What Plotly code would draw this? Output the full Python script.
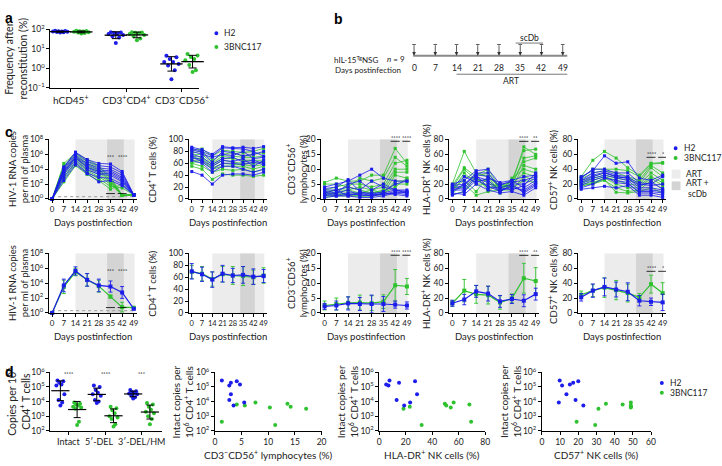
import numpy as np
import plotly.graph_objects as go

W, H = 722, 466
FONT = "Lato"
BOLD_FONT = "Liberation Sans"
BLUE = "#1c1ceb"
GREEN = "#2ec22e"
LIGHT = "#ececec"
DARK = "#d4d4d4"
INK = "#222222"


def fx(p):
    return p / W


def fy(p):
    return 1 - p / H


# ------------------------------------------------------------------ data
GROUPS = ["H2", "3BNC117"]
DAYS = [0, 7, 14, 21, 28, 35, 42, 49]

# panel a: frequency after reconstitution (%)
A_CATS = ["hCD45<sup>+</sup>", "CD3<sup>+</sup>CD4<sup>+</sup>", "CD3<sup>−</sup>CD56<sup>+</sup>"]
a_h2 = [
    [85, 83, 81, 79, 77, 75, 73, 71, 69],
    [72, 70, 66, 62, 58, 52, 45, 38, 20],
    [4.5, 3.7, 3.0, 2.1, 2.1, 1.7, 1.4, 0.8, 0.28],
]
a_3bnc = [
    [86, 84, 80, 78, 75, 72, 70, 66, 62],
    [72, 70, 68, 63, 58, 52, 45, 34, 28],
    [5.5, 4.6, 3.8, 3.0, 2.6, 2.2, 1.5, 0.8, 0.65],
]

# panel c, top row: individual mice (rows = mice, columns = DAYS)
rna_h2 = [
    [1, 2.0e4, 2.0e6, 2.0e5, 6.0e4, 5.0e4, 5.0e3, 3.5],
    [1, 1.5e4, 1.5e6, 1.2e5, 3.0e4, 2.0e4, 3.0e3, 3.5],
    [1, 1.0e4, 8.0e5, 6.0e4, 1.5e4, 1.0e4, 1.5e3, 3.5],
    [1, 6.0e3, 5.0e5, 4.0e4, 8.0e3, 6.0e3, 8.0e2, 3.5],
    [1, 4.0e3, 4.0e5, 2.0e4, 5.0e3, 4.0e3, 5.0e2, 3.5],
    [1, 3.0e3, 3.0e5, 1.5e4, 3.0e3, 2.5e3, 3.0e2, 3.5],
    [1, 2.0e3, 1.5e5, 8.0e3, 2.0e3, 1.5e3, 2.0e2, 3.5],
    [1, 8.0e2, 8.0e4, 3.0e3, 8.0e2, 6.0e2, 1.0e2, 3.5],
    [1, 3.0e2, 4.0e4, 2.5e3, 2.0e2, 3.0e2, 6.0e1, 3.5],
]
rna_3bnc = [
    [1, 6.0e4, 1.5e6, 2.0e5, 3.0e4, 1.0e3, 3, 3.5],
    [1, 3.0e4, 1.0e6, 1.0e5, 2.0e4, 6.0e2, 3, 3.5],
    [1, 1.5e4, 6.0e5, 6.0e4, 1.0e4, 4.0e2, 3, 3.5],
    [1, 8.0e3, 4.0e5, 3.0e4, 6.0e3, 3.0e2, 3, 3.5],
    [1, 4.0e3, 3.0e5, 2.0e4, 4.0e3, 2.0e2, 3, 3.5],
    [1, 2.0e3, 2.0e5, 1.0e4, 2.0e3, 1.5e2, 3, 3.5],
    [1, 1.0e3, 1.0e5, 6.0e3, 1.0e3, 1.0e2, 3, 3.5],
    [1, 5.0e2, 6.0e4, 4.0e3, 5.0e2, 5.0e1, 30, 3.5],
    [1, 2.0e2, 3.0e4, 2.0e3, 3.0e2, 2.0e1, 100, 3.5],
]
cd4_h2 = [
    [87, 83, 75, 88, 86, 87, 85, 88],
    [85, 80, 72, 86, 85, 84, 80, 72],
    [83, 78, 62, 80, 78, 72, 75, 80],
    [80, 75, 70, 75, 73, 80, 68, 70],
    [75, 70, 58, 68, 70, 62, 65, 60],
    [72, 65, 55, 65, 63, 68, 55, 65],
    [70, 63, 50, 60, 60, 58, 62, 58],
    [65, 60, 45, 55, 55, 50, 45, 50],
    [46, 40, 25, 40, 42, 42, 40, 45],
]
cd4_3bnc = [
    [82, 84, 72, 82, 80, 78, 80, 85],
    [78, 80, 65, 75, 78, 72, 75, 78],
    [75, 75, 60, 72, 72, 70, 70, 72],
    [72, 70, 58, 68, 68, 65, 65, 65],
    [68, 68, 55, 65, 62, 60, 60, 62],
    [65, 65, 52, 60, 58, 58, 55, 58],
    [62, 62, 50, 55, 55, 55, 50, 55],
    [60, 55, 45, 50, 48, 50, 45, 50],
    [55, 50, 33, 42, 40, 40, 38, 40],
]
nk_h2 = [
    [4, 5, 6, 8, 10, 7, 6, 6],
    [3, 3, 4, 3, 6, 4, 3, 3],
    [2.5, 2, 5, 6, 3, 5, 3, 2.5],
    [2, 1.5, 2, 2, 2, 2, 3, 2],
    [1.5, 1, 1.5, 1.5, 1, 1.5, 2.5, 2],
    [1, 2, 3, 1, 1.5, 1.5, 2, 2.5],
    [0.5, 1, 1, 0.5, 0.5, 1, 2, 1.5],
    [2, 3, 1, 2, 1, 2, 1.5, 1],
    [3.5, 4, 6.5, 2.5, 1.5, 2.5, 5, 6],
]
nk_3bnc = [
    [5.5, 7, 6, 6, 8, 8, 17, 12],
    [5, 5, 4, 7, 6, 7, 14, 11],
    [3, 4, 5, 5, 4, 5, 12, 13],
    [2, 3, 3, 4, 3, 4, 10, 10],
    [1.5, 2, 2, 2, 2, 3, 9, 9],
    [1, 1.5, 1.5, 1, 1, 2, 8, 7],
    [0.5, 1, 1, 1, 1, 1.5, 6, 6],
    [2.5, 3, 4, 3, 2, 2.5, 5, 5],
    [2, 2, 3, 2, 3, 2, 4, 7],
]
hla_h2 = [
    [20, 25, 38, 40, 20, 22, 25, 30],
    [18, 20, 35, 35, 15, 20, 20, 28],
    [15, 18, 33, 30, 18, 25, 15, 25],
    [13, 15, 30, 25, 12, 15, 12, 22],
    [12, 12, 28, 22, 10, 18, 10, 20],
    [10, 20, 32, 15, 15, 12, 18, 35],
    [8, 6, 20, 12, 8, 10, 5, 15],
    [5, 10, 25, 18, 10, 20, 8, 18],
    [16, 30, 22, 28, 22, 25, 30, 32],
]
hla_3bnc = [
    [20, 64, 35, 30, 15, 20, 70, 60],
    [18, 42, 30, 35, 12, 25, 65, 67],
    [15, 40, 25, 25, 10, 18, 55, 58],
    [12, 35, 20, 20, 18, 22, 50, 55],
    [10, 30, 28, 15, 20, 15, 45, 40],
    [14, 25, 10, 30, 8, 28, 40, 35],
    [8, 20, 5, 10, 12, 12, 30, 25],
    [16, 15, 32, 40, 15, 20, 35, 30],
    [6, 10, 30, 12, 18, 15, 25, 22],
]
cd57_h2 = [
    [30, 38, 58, 48, 50, 28, 25, 32],
    [28, 40, 40, 35, 35, 22, 20, 30],
    [25, 35, 38, 32, 30, 20, 18, 20],
    [22, 30, 35, 30, 28, 15, 15, 12],
    [20, 28, 32, 28, 25, 12, 12, 10],
    [18, 25, 30, 22, 20, 10, 10, 8],
    [15, 20, 28, 25, 22, 8, 8, 5],
    [13, 15, 17, 15, 18, 5, 5, 2],
    [24, 32, 36, 30, 28, 18, 22, 14],
]
cd57_3bnc = [
    [30, 52, 64, 55, 42, 32, 48, 49],
    [28, 40, 40, 40, 38, 30, 47, 48],
    [27, 35, 38, 35, 30, 25, 45, 35],
    [25, 30, 35, 30, 28, 22, 42, 30],
    [23, 28, 32, 28, 25, 20, 35, 25],
    [22, 25, 30, 25, 20, 18, 30, 22],
    [20, 22, 28, 20, 15, 15, 28, 18],
    [18, 20, 25, 15, 10, 12, 25, 12],
    [17, 21, 26, 9, 8, 10, 15, 8],
]

# panel c, bottom row: group mean and SD
rna_log_mean_h2 = [0, 3.7, 5.65, 4.45, 3.7, 3.55, 2.75, 0.55]
rna_log_sd_h2 = [0, 0.85, 0.55, 0.85, 0.85, 0.75, 0.8, 0]
rna_log_mean_3bnc = [0, 3.5, 5.5, 4.45, 3.6, 2.2, 0.78, 0.7]
rna_log_sd_3bnc = [0, 0.9, 0.5, 0.85, 0.8, 0.2, 0.65, 0]
cd4_mean_h2 = [70, 65, 56, 66, 63, 64, 61, 62]
cd4_sd_h2 = [13, 12, 13, 14, 12, 14, 13, 11]
cd4_mean_3bnc = [69, 66, 57, 65, 63, 62, 60, 63]
cd4_sd_3bnc = [11, 12, 12, 13, 15, 16, 12, 13]
nk_mean_h2 = [2.2, 2.5, 3.2, 3.0, 3.0, 3.0, 2.8, 2.5]
nk_sd_h2 = [1.0, 1.5, 2.2, 2.2, 3.0, 2.5, 1.2, 1.2]
nk_mean_3bnc = [2.5, 3.0, 3.4, 3.5, 3.3, 3.8, 9.3, 8.9]
nk_sd_3bnc = [1.5, 2.0, 2.0, 2.5, 2.5, 2.3, 5.3, 2.7]
hla_mean_h2 = [13, 18, 29, 26, 15.5, 18.7, 16.4, 25.3]
hla_sd_h2 = [4, 7, 8, 10, 8, 6, 8, 8]
hla_mean_3bnc = [13, 30, 25, 24, 14, 19.5, 46.7, 43]
hla_sd_3bnc = [4, 15, 12, 12, 9, 6, 20, 18]
cd57_mean_h2 = [21, 30, 35, 31.5, 28.5, 16.4, 15, 14.2]
cd57_sd_h2 = [5, 9, 12, 10, 12, 7, 5, 11]
cd57_mean_3bnc = [24.4, 30, 34, 30.7, 26.7, 21, 38.7, 26.7]
cd57_sd_3bnc = [5, 8, 13, 13, 12, 5, 12, 14]

C_YTITLES = [
    "HIV-1 RNA copies<br>per ml of plasma",
    "CD4<sup>+</sup> T cells (%)",
    "CD3<sup>−</sup>CD56<sup>+</sup><br>lymphocytes (%)",
    "HLA-DR<sup>+</sup> NK cells (%)",
    "CD57<sup>+</sup> NK cells (%)",
]
C_SIG = [
    [(35, "***"), (42, "****")],
    [],
    [(42, "****"), (49, "****")],
    [(42, "****"), (49, "**")],
    [(42, "****"), (49, "*")],
]

# panel d: proviral copies per 10^6 CD4+ T cells
D_CATS = ["Intact", "5′-DEL", "3′-DEL/HM"]
intact_h2 = [2.75e5, 2.5e5, 1.95e5, 1.5e5, 1.26e5, 3.2e4, 1.3e4, 8.5e3, 5.4e3]
intact_3bnc = [8.5e3, 7.1e3, 6.3e3, 5.4e3, 4.5e3, 4.0e3, 3.2e3, 4.2e2, 2.5e2]
del5_h2 = [1.26e5, 1.0e5, 6.3e4, 4.0e4, 3.2e4, 2.5e4, 1.26e4, 1.0e4, 7.9e3]
del5_3bnc = [4.5e3, 3.5e3, 2.5e3, 1.6e3, 1.0e3, 8.0e2, 6.3e2, 2.8e2, 2.0e2]
del3_h2 = [6.3e4, 5.0e4, 4.5e4, 4.0e4, 3.5e4, 3.2e4, 2.5e4, 2.0e4, 1.6e4]
del3_3bnc = [7.9e3, 6.3e3, 4.5e3, 2.8e3, 2.0e3, 1.6e3, 1.0e3, 6.3e2, 2.8e2]
D_SIG = ["****", "****", "***"]

# x values per mouse (same order as intact_* arrays)
nkpct_h2 = [1.3, 4.1, 3.0, 4.7, 2.7, 3.0, 2.7, 5.5, 3.5]
nkpct_3bnc = [7.6, 13.6, 4.1, 5.6, 14.2, 10.3, 17.1, 1.3, 11.3]
hlapct_h2 = [7.7, 27, 14.9, 5.2, 6.9, 28.5, 13.1, 23.3, 18.8]
hlapct_3bnc = [56.2, 49.5, 68.1, 50.6, 23, 54, 18.3, 69.4, 32]
cd57pct_h2 = [9.8, 20, 17.2, 15.4, 11.1, 13.5, 18.5, 9.3, 22.8]
cd57pct_3bnc = [48.9, 35.2, 44.4, 48.9, 48.9, 48.9, 31.1, 19.1, 29.3]

# ------------------------------------------------------------------ style constants
JIT = [-0.09, 0.09, -0.03, 0.03, -0.13, 0.13, -0.06, 0.06, 0.0]
JIT_D = [-0.08, 0.08, -0.03, 0.03, -0.11, 0.11, -0.05, 0.05, 0.0]
TICKF = dict(size=8.5, color=INK, family=FONT)

AX = dict(
    showline=True, linecolor="black", linewidth=0.8, ticks="outside", ticklen=3,
    tickwidth=0.8, tickcolor="black", showgrid=False, zeroline=False, tickfont=TICKF,
    tickangle=0,
)


def xax(l, r, anchor, **kw):
    d = dict(AX, domain=[fx(l), fx(r)], anchor=anchor)
    d.update(kw)
    return d


def yax(bottom, top, anchor, **kw):
    d = dict(AX, domain=[fy(bottom), fy(top)], anchor=anchor)
    d.update(kw)
    return d


def pw(vals):
    return ["10<sup>%d</sup>" % v if v >= 0 else "10<sup>−%d</sup>" % (-v) for v in vals]


def gstats(vals):
    l = np.log10(np.asarray(vals, dtype=float))
    m, s = l.mean(), l.std(ddof=1)
    return 10 ** m, 10 ** (m + s) - 10 ** m, 10 ** m - 10 ** (m - s)


fig = go.Figure()
ann = []
shapes = []


def note(x, y, text, size=9, xanchor="center", yanchor="middle", xref="paper", yref="paper", **kw):
    if xref == "paper":
        x = fx(x)
    if yref == "paper":
        y = fy(y)
    d = dict(x=x, y=y, xref=xref, yref=yref, text=text, showarrow=False, xanchor=xanchor,
             yanchor=yanchor, font=dict(size=size, color=kw.pop("color", INK), family=kw.pop("family", FONT)))
    d.update(kw)
    ann.append(d)


# ------------------------------------------------------------------ panel a
for vals_list, col, off in [(a_h2, BLUE, -0.19), (a_3bnc, GREEN, 0.19)]:
    mx, my, up, lo = [], [], [], []
    for ci, vals in enumerate(vals_list):
        fig.add_trace(go.Scatter(
            x=[ci + off + j for j in JIT], y=vals, mode="markers",
            marker=dict(color=col, size=4), xaxis="x", yaxis="y",
            showlegend=False, cliponaxis=False, hoverinfo="skip"))
        m, u, lw = gstats(vals)
        mx.append(ci + off); my.append(m); up.append(u); lo.append(lw)
    fig.add_trace(go.Scatter(
        x=mx, y=my, mode="markers", xaxis="x", yaxis="y", showlegend=False,
        marker=dict(symbol="line-ew", size=16, color="black", line=dict(color="black", width=1.3)),
        error_y=dict(type="data", symmetric=False, array=up, arrayminus=lo,
                     color="black", thickness=1, width=4), cliponaxis=False, hoverinfo="skip"))

# ------------------------------------------------------------------ panel b (timeline)
fig.add_trace(go.Scatter(x=[None], y=[None], xaxis="x2", yaxis="y2", showlegend=False))
shapes.append(dict(type="line", xref="x2", yref="paper", x0=-0.3, x1=50.5, y0=fy(50), y1=fy(50),
                   line=dict(color="#8a8a8a", width=2)))
shapes.append(dict(type="line", xref="x2", yref="paper", x0=33.5, x1=42.5, y0=fy(37), y1=fy(37),
                   line=dict(color="#555", width=0.8)))
shapes.append(dict(type="line", xref="x2", yref="paper", x0=14, x1=50.5, y0=fy(69), y1=fy(69),
                   line=dict(color="#555", width=0.8)))
for d in DAYS:
    ann.append(dict(x=d, xref="x2", y=fy(50), yref="paper", ax=0, ay=-12, axref="pixel", ayref="pixel",
                    showarrow=True, arrowhead=2, arrowsize=0.9, arrowwidth=0.8, arrowcolor="#333", text=""))
    shapes.append(dict(type="line", xref="x2", yref="paper", x0=d - 0.6, x1=d + 0.6, y0=fy(38.5), y1=fy(38.5),
                       line=dict(color="#333", width=0.8)))
    note(d, 63, str(d), size=8.5, xref="x2")
note(38, 32, "scDb", size=8.5, xref="x2")
note(32, 76, "ART", size=8.5, xref="x2")
note(336, 53.5, "hIL-15<sup>Tg</sup>NSG", size=8, xanchor="left")
note(389, 53.5, "<i>n</i> = 9", size=8, xanchor="left")
note(408, 64.5, "Days postinfection", size=8, xanchor="right")

# ------------------------------------------------------------------ panel c
C_X_PX = [(47.6, 137.4), (190.0, 269.0), (324.6, 415.2), (454.5, 546.2), (585.6, 675.2)]
C_TITLE_X = [16, 152, 299, 430, 560]
C_XTICK_SIZE = [8, 7.5, 8, 8, 8]
ROWS = [(197, 136), (314, 253)]
top_sets = [(rna_h2, rna_3bnc), (cd4_h2, cd4_3bnc), (nk_h2, nk_3bnc), (hla_h2, hla_3bnc), (cd57_h2, cd57_3bnc)]
bot_sets = [
    ([10 ** v for v in rna_log_mean_h2], None, [10 ** v for v in rna_log_mean_3bnc], None),
    (cd4_mean_h2, cd4_sd_h2, cd4_mean_3bnc, cd4_sd_3bnc),
    (nk_mean_h2, nk_sd_h2, nk_mean_3bnc, nk_sd_3bnc),
    (hla_mean_h2, hla_sd_h2, hla_mean_3bnc, hla_sd_3bnc),
    (cd57_mean_h2, cd57_sd_h2, cd57_mean_3bnc, cd57_sd_3bnc),
]
Y_SPECS = [
    dict(type="log", range=[0, 8], tickvals=[1, 1e2, 1e4, 1e6, 1e8], ticktext=pw([0, 2, 4, 6, 8])),
    dict(range=[0, 100], tickvals=[0, 20, 40, 60, 80, 100]),
    dict(range=[0, 20], tickvals=[0, 5, 10, 15, 20]),
    dict(range=[0, 80], tickvals=[0, 20, 40, 60, 80]),
    dict(range=[0, 80], tickvals=[0, 20, 40, 60, 80]),
]
SIG_Y = [5.25, None, 19.4, 77.5, 56]

layout_axes = {}
for row, (yb, yt) in enumerate(ROWS):
    for pi in range(5):
        n = 3 + row * 5 + pi
        xa, ya = "x%d" % n, "y%d" % n
        l, r = C_X_PX[pi]
        layout_axes["xaxis%d" % n] = xax(l, r, ya, range=[-2, 51], tickvals=DAYS,
                                         tickfont=dict(TICKF, size=C_XTICK_SIZE[pi]))
        layout_axes["yaxis%d" % n] = yax(yb, yt, xa, **Y_SPECS[pi])
        shapes.append(dict(type="rect", xref=xa, yref=ya + " domain", x0=14, x1=49.5, y0=0, y1=1,
                           fillcolor=LIGHT, line=dict(width=0), layer="below"))
        shapes.append(dict(type="rect", xref=xa, yref=ya + " domain", x0=33, x1=43, y0=0, y1=1,
                           fillcolor=DARK, line=dict(width=0), layer="below"))
        if pi == 0:
            shapes.append(dict(type="line", xref=xa, yref=ya, x0=0, x1=49, y0=2, y1=2,
                               line=dict(color="#9a9a9a", width=1, dash="dot"), layer="below"))
        if row == 0:
            h2, bn = top_sets[pi]
            for grp, col in [(bn, GREEN), (h2, BLUE)]:
                for mouse in grp:
                    fig.add_trace(go.Scatter(x=DAYS, y=mouse, mode="lines+markers", xaxis=xa, yaxis=ya,
                                             line=dict(color=col, width=0.8),
                                             marker=dict(symbol="square", size=3),
                                             showlegend=False, cliponaxis=False, hoverinfo="skip"))
        else:
            mh, sh, mb, sb = bot_sets[pi]
            for mean, sd, col, key in [(mb, sb, GREEN, "b"), (mh, sh, BLUE, "h")]:
                if pi == 0:
                    lm = rna_log_mean_h2 if key == "h" else rna_log_mean_3bnc
                    ls = rna_log_sd_h2 if key == "h" else rna_log_sd_3bnc
                    up = [10 ** (a + b) - 10 ** a for a, b in zip(lm, ls)]
                    lo = [10 ** a - 10 ** (a - b) for a, b in zip(lm, ls)]
                    err = dict(type="data", symmetric=False, array=up, arrayminus=lo)
                else:
                    err = dict(type="data", array=sd)
                err.update(color=col, thickness=0.9, width=2)
                fig.add_trace(go.Scatter(x=DAYS, y=mean, mode="lines+markers", xaxis=xa, yaxis=ya,
                                         line=dict(color=col, width=1.2), marker=dict(symbol="square", size=4),
                                         error_y=err, showlegend=False, cliponaxis=False, hoverinfo="skip"))
        for day, lab in C_SIG[pi]:
            sy = SIG_Y[pi]
            shapes.append(dict(type="line", xref=xa, yref=ya, x0=day - 2.7, x1=day + 2.7, y0=sy, y1=sy,
                               line=dict(color="black", width=0.8)))
            note(day, sy, lab, size=5.5, xref=xa, yref=ya, yanchor="bottom", yshift=-2, color="black")
        note(C_TITLE_X[pi], (yb + yt) / 2, C_YTITLES[pi], size=9.5, textangle=-90)
        note(24.5, yb + 24, "Days postinfection", size=9.5, xref=xa)

# ------------------------------------------------------------------ panel d
D_Y = (435, 375)
LOGY = dict(type="log", range=[2, 6], tickvals=[1e2, 1e3, 1e4, 1e5, 1e6], ticktext=pw([2, 3, 4, 5, 6]))
layout_axes["xaxis13"] = xax(49, 163, "y13", range=[-0.51, 2.57], tickvals=[0, 1, 2], showticklabels=False)
layout_axes["yaxis13"] = yax(*D_Y, "x13", **LOGY)
for lab, cx, anc in zip(D_CATS, [68, 99, 116], ["center", "center", "left"]):
    note(cx, 446, lab, size=9, xanchor=anc)
for vals_list, col, off in [([intact_h2, del5_h2, del3_h2], BLUE, -0.23),
                            ([intact_3bnc, del5_3bnc, del3_3bnc], GREEN, 0.23)]:
    mx, my, up, lo = [], [], [], []
    for ci, vals in enumerate(vals_list):
        fig.add_trace(go.Scatter(x=[ci + off + j for j in JIT_D], y=vals, mode="markers",
                                 marker=dict(color=col, size=4), xaxis="x13", yaxis="y13",
                                 showlegend=False, cliponaxis=False, hoverinfo="skip"))
        m, u, lw = gstats(vals)
        mx.append(ci + off); my.append(m); up.append(u); lo.append(lw)
    fig.add_trace(go.Scatter(x=mx, y=my, mode="markers", xaxis="x13", yaxis="y13", showlegend=False,
                             marker=dict(symbol="line-ew", size=13, color="black",
                                         line=dict(color="black", width=1.2)),
                             error_y=dict(type="data", symmetric=False, array=up, arrayminus=lo,
                                          color="black", thickness=1, width=3.5),
                             cliponaxis=False, hoverinfo="skip"))
for ci, lab in enumerate(D_SIG):
    shapes.append(dict(type="line", xref="x13", yref="y13", x0=ci - 0.25, x1=ci + 0.25, y0=5.67, y1=5.67,
                       line=dict(color="black", width=0.8)))
    note(ci, 5.67, lab, size=5.5, xref="x13", yref="y13", yanchor="bottom", yshift=-2, color="black")
note(16.5, 405, "Copies per 10<sup>6</sup><br>CD4<sup>+</sup> T cells", size=10.5, textangle=-90)

D_SC = [
    ("x14", "y14", (216.5, 325), [0, 20], [0, 5, 10, 15, 20], nkpct_h2, nkpct_3bnc,
     "CD3<sup>−</sup>CD56<sup>+</sup> lymphocytes (%)", 184),
    ("x15", "y15", (383.7, 491.3), [0, 80], [0, 20, 40, 60, 80], hlapct_h2, hlapct_3bnc,
     "HLA-DR<sup>+</sup> NK cells (%)", 351.5),
    ("x16", "y16", (549, 660), [0, 60], [0, 10, 20, 30, 40, 50, 60], cd57pct_h2, cd57pct_3bnc,
     "CD57<sup>+</sup> NK cells (%)", 517),
]
for xa, ya, (l, r), rng, tv, xh, xb, xt, tx in D_SC:
    layout_axes["xaxis" + xa[1:]] = xax(l, r, ya, range=rng, tickvals=tv)
    layout_axes["yaxis" + ya[1:]] = yax(*D_Y, xa, **LOGY)
    for xs, ys, col in [(xb, intact_3bnc, GREEN), (xh, intact_h2, BLUE)]:
        fig.add_trace(go.Scatter(x=xs, y=ys, mode="markers", marker=dict(color=col, size=4),
                                 xaxis=xa, yaxis=ya, showlegend=False, cliponaxis=False, hoverinfo="skip"))
    note((rng[0] + tv[-1]) / 2, 459, xt, size=10, xref=xa)
    note(tx, 405, "Intact copies per<br>10<sup>6</sup> CD4<sup>+</sup> T cells", size=10, textangle=-90)

# ------------------------------------------------------------------ panel a axes
layout_axes["xaxis"] = xax(49, 200, "y", range=[-0.37, 2.3], tickvals=[0, 1, 2], ticktext=A_CATS,
                           tickfont=dict(size=10, color=INK, family=FONT))
layout_axes["yaxis"] = yax(83, 23, "x", type="log", range=[-1, 2], tickvals=[0.1, 1, 10, 100],
                           ticktext=pw([-1, 0, 1, 2]))
layout_axes["xaxis2"] = dict(domain=[fx(400), fx(600)], range=[(400 - 419) / 3.086, (600 - 419) / 3.086],
                             visible=False, anchor="y2")
layout_axes["yaxis2"] = dict(domain=[fy(80), fy(20)], range=[0, 1], visible=False, anchor="x2")
note(14, 53, "Frequency after<br>reconstitution (%)", size=10.5, textangle=-90)


# ------------------------------------------------------------------ legends
def dot(cx, cy, col, r=2.0):
    shapes.append(dict(type="circle", xref="paper", yref="paper", x0=fx(cx - r), x1=fx(cx + r),
                       y0=fy(cy + r), y1=fy(cy - r), fillcolor=col, line=dict(width=0)))


for (lx, ly, gap) in [(218, 27, 14), (685, 145, 10), (671, 386, 10)]:
    for k, (g, col) in enumerate(zip(GROUPS, [BLUE, GREEN])):
        dot(lx, ly + k * gap, col)
        note(lx + 6, ly + k * gap, g, size=8.5, xanchor="left")
shapes.append(dict(type="rect", xref="paper", yref="paper", x0=fx(681), x1=fx(690), y0=fy(176), y1=fy(167),
                   fillcolor=LIGHT, line=dict(width=0)))
shapes.append(dict(type="rect", xref="paper", yref="paper", x0=fx(681), x1=fx(690), y0=fy(188), y1=fy(179),
                   fillcolor=DARK, line=dict(width=0)))
note(694, 171, "ART", size=8.5, xanchor="left")
note(694, 186.5, "ART +<br>scDb", size=8.5, xanchor="left")

for lab, x, y in [("a", 1, 1), ("b", 336, 2), ("c", 1, 118), ("d", 1, 364)]:
    note(x, y, "<b>%s</b>" % lab, size=14, xanchor="left", yanchor="top", color="black", family=BOLD_FONT)

fig.update_layout(
    width=W, height=H, margin=dict(l=0, r=0, t=0, b=0), paper_bgcolor="white",
    plot_bgcolor="rgba(0,0,0,0)", font=dict(family=FONT, size=9, color=INK), showlegend=False,
    annotations=ann, shapes=shapes, **layout_axes)
fig.write_html("out.html", config={"displayModeBar": False},
               post_script="document.body.style.margin='0';document.body.style.overflow='hidden';")
